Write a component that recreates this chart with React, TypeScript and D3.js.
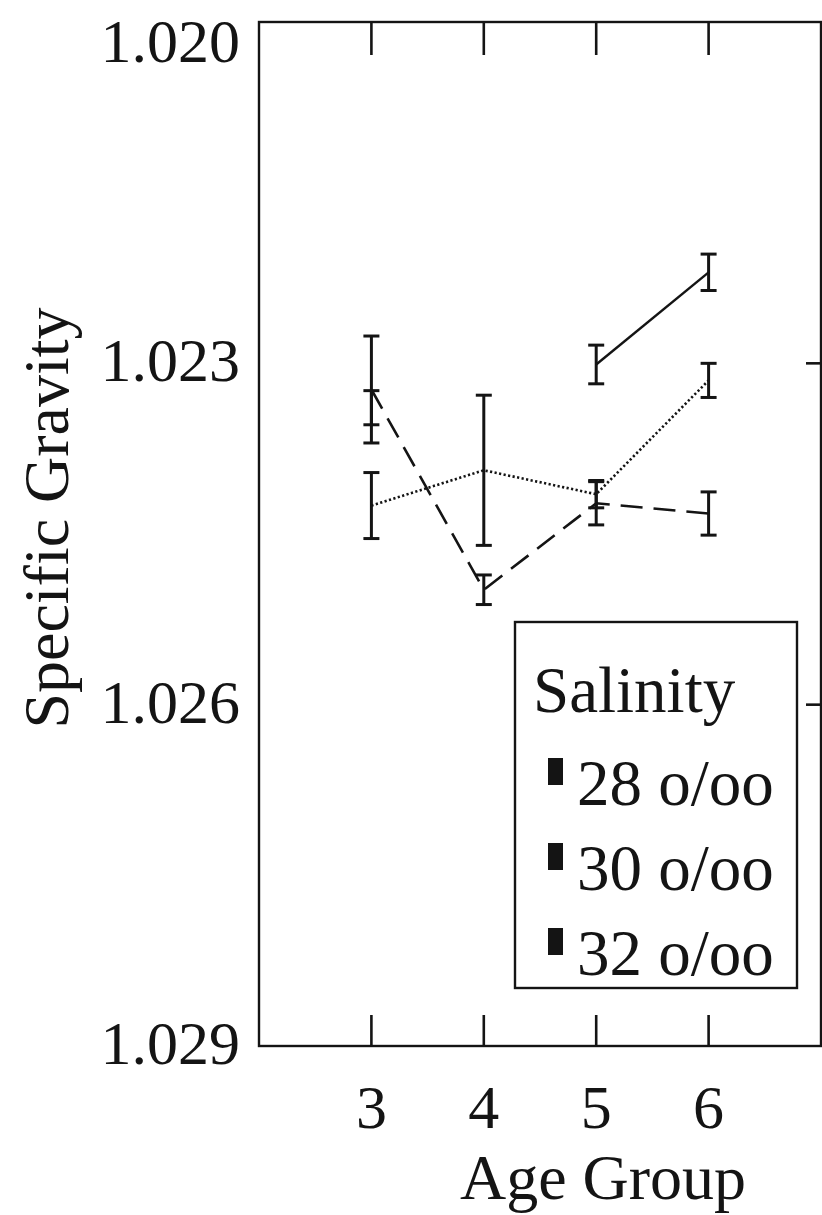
import React from "react";
import * as d3 from "d3";

// Age groups on the x axis
const ageGroups = [3, 4, 5, 6];
const yTicks = [1.02, 1.023, 1.026, 1.029];
const yTickLabels = ["1.020", "1.023", "1.026", "1.029"];

// Mean specific gravity and error half-widths per salinity treatment
const sal28Mean: (number | null)[] = [1.02339, null, 1.02301, 1.0222];
const sal28Err: (number | null)[] = [0.00015, null, 0.00017, 0.00016];
const sal30Mean: (number | null)[] = [1.02425, 1.02394, 1.02415, 1.02315];
const sal30Err: (number | null)[] = [0.00029, 0.00066, 0.00012, 0.00015];
const sal32Mean: (number | null)[] = [1.02323, 1.02499, 1.02423, 1.02432];
const sal32Err: (number | null)[] = [0.00047, 0.00013, 0.00019, 0.00019];

const legendLabels = ["28 o/oo", "30 o/oo", "32 o/oo"];

const W = 822;
const H = 1215;
const left = 259;
const right = 821;
const top = 22;
const bottom = 1046;
const font = "'Liberation Serif', 'Times New Roman', serif";
const ink = "#141414";

export default function App() {
  const x = d3.scaleLinear().domain([2, 7]).range([left, right]);
  const y = d3.scaleLinear().domain([1.02, 1.029]).range([top, bottom]);

  const series = [
    { mean: sal28Mean, err: sal28Err, dash: "none", width: 2.4 },
    { mean: sal30Mean, err: sal30Err, dash: "2.2 2.4", width: 2.6 },
    { mean: sal32Mean, err: sal32Err, dash: "22 11", width: 2.6 },
  ];

  const line = d3
    .line<number | null>()
    .defined((d) => d !== null)
    .x((_, i) => x(ageGroups[i]))
    .y((d) => y(d as number));

  const cap = 8;

  return (
    <svg
      width={W}
      height={H}
      style={{ position: "absolute", left: 0, top: 0, background: "#fff" }}
    >
      {/* frame */}
      <rect
        x={left}
        y={top}
        width={right - left}
        height={bottom - top}
        fill="none"
        stroke={ink}
        strokeWidth={2.4}
      />
      {/* inward ticks on top and bottom */}
      {ageGroups.map((a) => (
        <g key={a}>
          <line x1={x(a)} x2={x(a)} y1={top} y2={top + 33} stroke={ink} strokeWidth={2.6} />
          <line x1={x(a)} x2={x(a)} y1={bottom} y2={bottom - 31} stroke={ink} strokeWidth={2.6} />
          <text
            x={x(a)}
            y={1128}
            fontFamily={font}
            fontSize={62}
            textAnchor="middle"
            fill={ink}
          >
            {a}
          </text>
        </g>
      ))}
      {/* inward ticks on the right edge */}
      {yTicks.slice(1, 3).map((t) => (
        <line key={t} x1={right} x2={right - 15} y1={y(t)} y2={y(t)} stroke={ink} strokeWidth={2.6} />
      ))}
      {/* y tick labels */}
      {yTicks.map((t, i) => (
        <text
          key={t}
          x={240}
          y={i === 0 ? 62 : y(t) + 18}
          fontFamily={font}
          fontSize={62}
          textAnchor="end"
          fill={ink}
        >
          {yTickLabels[i]}
        </text>
      ))}
      {/* axis titles */}
      <text
        transform={`translate(68, 518) rotate(-90)`}
        fontFamily={font}
        fontSize={64}
        textAnchor="middle"
        fill={ink}
      >
        Specific Gravity
      </text>
      <text x={603} y={1199} fontFamily={font} fontSize={64} textAnchor="middle" fill={ink}>
        Age Group
      </text>

      {/* series lines */}
      {series.map((s, si) => (
        <path
          key={si}
          d={line(s.mean) || ""}
          fill="none"
          stroke={ink}
          strokeWidth={s.width}
          strokeDasharray={s.dash}
        />
      ))}
      {/* error bars */}
      {series.map((s, si) =>
        s.mean.map((m, i) => {
          if (m === null) return null;
          const e = s.err[i] as number;
          const cx = x(ageGroups[i]);
          const y0 = y(m - e);
          const y1 = y(m + e);
          return (
            <g key={`${si}-${i}`} stroke={ink} strokeWidth={3}>
              <line x1={cx} x2={cx} y1={y0} y2={y1} />
              <line x1={cx - cap} x2={cx + cap} y1={y0} y2={y0} />
              <line x1={cx - cap} x2={cx + cap} y1={y1} y2={y1} />
            </g>
          );
        })
      )}

      {/* legend */}
      <rect x={515} y={622} width={282} height={366} fill="#fff" stroke={ink} strokeWidth={2.4} />
      <text x={533} y={712} fontFamily={font} fontSize={65} fill={ink}>
        Salinity
      </text>
      {legendLabels.map((lab, i) => {
        const base = 805 + i * 85;
        return (
          <g key={lab}>
            <rect x={548} y={base - 47} width={15} height={27} fill={ink} />
            <text x={577} y={base} fontFamily={font} fontSize={65} fill={ink}>
              {lab}
            </text>
          </g>
        );
      })}
    </svg>
  );
}
